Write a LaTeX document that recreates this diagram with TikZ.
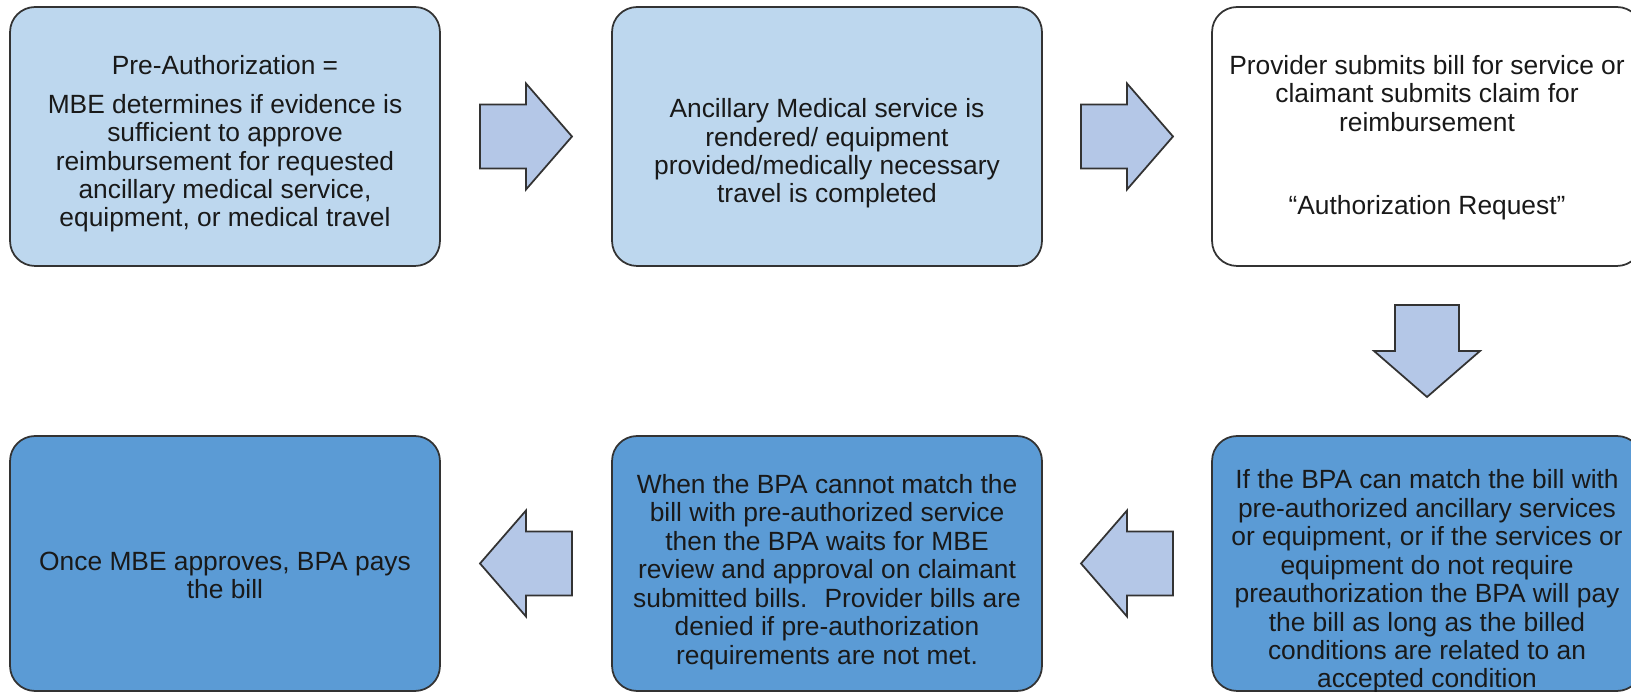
\documentclass[tikz,border=0pt]{standalone}
\usepackage{fontspec}
\setmainfont{Liberation Sans}
\usetikzlibrary{calc}

\definecolor{paleblue}{HTML}{BDD7EE}
\definecolor{arrowblue}{HTML}{B4C7E7}
\definecolor{midblue}{HTML}{5B9BD5}
\definecolor{edgegray}{HTML}{333333}

\tikzset{
  stepbox/.style={draw=edgegray, line width=1pt, rounded corners=0.5cm,
    minimum width=8.6cm, minimum height=5.18cm, inner sep=0pt},
  lowbox/.style={stepbox, minimum height=5.1cm, fill=midblue},
  boxtext/.style={align=center, inner sep=0pt, text=black!90,
    font=\fontsize{15}{16.2}\selectfont},
  pics/blockarrow/.style={code={
    \draw[draw=edgegray, line width=1pt, fill=arrowblue, line join=miter]
      (-46,-32) -- (0,-32) -- (0,-53) -- (46,0) -- (0,53) -- (0,32) -- (-46,32) -- cycle;
  }}
}

\begin{document}
\begin{tikzpicture}[x=0.02cm, y=0.02cm]
  \useasboundingbox (0,0) rectangle (1631,692);

  % top row
  \node[stepbox, fill=paleblue] (preauth) at (225,555.5) {};
  \node[stepbox, fill=paleblue] (render) at (827,555.5) {};
  \node[stepbox, fill=white] (submit) at (1427,555.5) {};

  % bottom row
  \node[lowbox] (pays) at (225,128.5) {};
  \node[lowbox] (waits) at (827,128.5) {};
  \node[lowbox] (match) at (1427,128.5) {};

  % texts
  \node[boxtext] at ([yshift=-0.15cm]preauth.center)
    {Pre-Authorization =\\[0.2cm]MBE determines if evidence is\\ sufficient to approve\\
     reimbursement for requested\\ ancillary medical service,\\ equipment, or medical travel};
  \node[boxtext] at ([yshift=-0.34cm]render.center)
    {Ancillary Medical service is\\ rendered/ equipment\\ provided/medically necessary\\ travel is completed};
  \node[boxtext] at ([yshift=-0.02cm]submit.center)
    {Provider submits bill for service or\\ claimant submits claim for\\ reimbursement\\[31pt]
     “Authorization Request”};
  \node[boxtext] at ([yshift=-0.24cm]pays.center)
    {Once MBE approves, BPA pays\\ the bill};
  \node[boxtext] at ([yshift=-0.17cm]waits.center)
    {When the BPA cannot match the\\ bill with pre-authorized service\\ then the BPA waits for MBE\\
     review and approval on claimant\\ submitted bills.~ Provider bills are\\
     denied if pre-authorization\\ requirements are not met.};
  \node[boxtext] at ([yshift=-0.36cm]match.center)
    {If the BPA can match the bill with\\ pre-authorized ancillary services\\ or equipment, or if the services or\\
     equipment do not require\\ preauthorization the BPA will pay\\ the bill as long as the billed\\
     conditions are related to an\\ accepted condition};

  % block arrows
  \pic at ($(preauth.east)!0.5!(render.west)$) {blockarrow};
  \pic at ($(render.east)!0.5!(submit.west)$) {blockarrow};
  \pic[rotate=-90] at ($(submit.south)!0.5!(match.north)$) {blockarrow};
  \pic[rotate=180] at ($(match.west)!0.5!(waits.east)$) {blockarrow};
  \pic[rotate=180] at ($(waits.west)!0.5!(pays.east)$) {blockarrow};
\end{tikzpicture}
\end{document}
